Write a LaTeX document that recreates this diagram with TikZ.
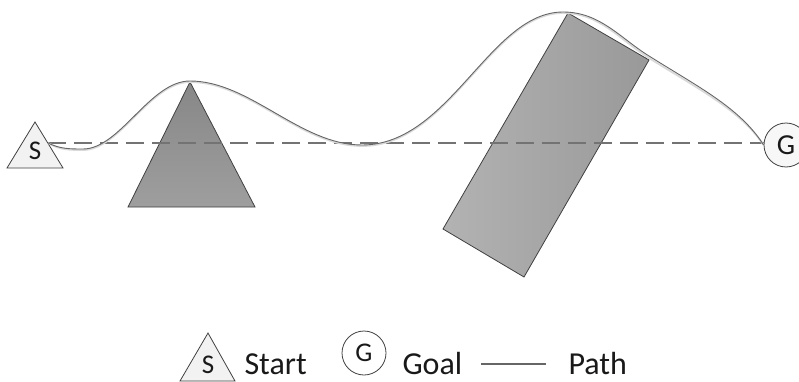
\documentclass[tikz,border=0pt]{standalone}
\usepackage{fontspec}
\setmainfont{Carlito}
\begin{document}
\begin{tikzpicture}[x=1pt,y=-1pt,
  outl/.style={draw=black!75, line width=0.8pt},
  startshape/.style={outl, fill=black!5},
  goalshape/.style={outl, fill=black!3, circle, minimum size=44pt, inner sep=0pt},
  obst/.style={outl},
  lbl/.style={font=\fontsize{32}{34}\selectfont, anchor=west, text=black!90},
  pathline/.style={draw=black!60, line width=0.9pt},
  straight/.style={draw=black!55, line width=1.2pt, dash pattern=on 18pt off 8pt}]
\useasboundingbox (0,0) rectangle (799,382);
% obstacles
\draw[obst, top color=black!47, bottom color=black!38] (128,207) -- (255,207) -- (190,82) -- cycle;
\draw[obst, left color=black!30, right color=black!40] (568,13) -- (649,60) -- (524,277) -- (443,229) -- cycle;
% start
\draw[startshape] (7,168) -- (63,168) -- (35,122) -- cycle;
\node[font=\fontsize{27}{28}\selectfont, text=black!90] (S) at (35,151) {S};
\coordinate (Sout) at (48,143);
% goal
\node[goalshape, font=\fontsize{29}{30}\selectfont, text=black!90] (G) at (786,145) {G};
% straight line
\draw[straight] (Sout) -- (G.west |- Sout);
% path
\draw[white!85!black, line width=1.8pt] (Sout) .. controls (60,150) and (70,150) .. (83,150)
  .. controls (120,150) and (150,82) .. (190,82)
  .. controls (250,82) and (300,146) .. (362,146)
  .. controls (450,146) and (490,13) .. (563,13)
  .. controls (600,13) and (620,40) .. (649,58)
  .. controls (700,90) and (740,110) .. (G.west);
\draw[pathline] (Sout) .. controls (60,149) and (70,149) .. (83,149)
  .. controls (120,149) and (150,81) .. (190,81)
  .. controls (250,81) and (300,145) .. (362,145)
  .. controls (450,145) and (490,12) .. (563,12)
  .. controls (600,12) and (620,38) .. (649,56)
  .. controls (700,88) and (740,108) .. (G.west);
% legend
\draw[startshape] (180,381) -- (235,381) -- (208,333) -- cycle;
\node[font=\fontsize{27}{28}\selectfont, text=black!90] (LS) at (208,365) {S};
\node[lbl] (Lstart) at (241,364) {Start};
\node[goalshape, minimum size=44pt, font=\fontsize{27}{28}\selectfont, fill=white, text=black!90] (LG) at (364,353) {G};
\node[lbl] (Lgoal) at (399,364) {Goal};
\coordinate (La) at (481,364);
\coordinate (Lb) at (546,364);
\draw[draw=black!60, line width=2pt] (La) -- (Lb);
\node[lbl] (Lpath) at (565,364) {Path};
\end{tikzpicture}
\end{document}
